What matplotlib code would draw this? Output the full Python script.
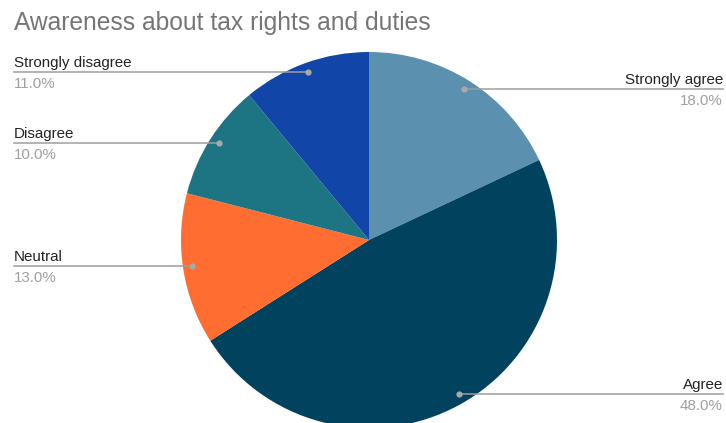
import matplotlib.pyplot as plt
import numpy as np

plt.rcParams['font.family'] = ['Liberation Sans', 'DejaVu Sans']

labels = ["Strongly agree", "Agree", "Neutral", "Disagree", "Strongly disagree"]
values = [18.0, 48.0, 13.0, 10.0, 11.0]
colors = ["#5b91ae", "#01435f", "#ff6d31", "#1d7584", "#1245a8"]
# which side each label sits on, and the height of its leader line (pixels from bottom)
sides = ["right", "right", "left", "left", "left"]
line_y = [334, 29, 157, 280, 351]

W, H = 726, 423
fig = plt.figure(figsize=(W / 100, H / 100), dpi=100)
ax = fig.add_axes([0, 0, 1, 1])

cx, cy, R = 369, 183, 188
wedges, _ = ax.pie(values, colors=colors, startangle=90, counterclock=False,
                   center=(cx, cy), radius=R, wedgeprops=dict(linewidth=0))

ax.set_xlim(0, W)
ax.set_ylim(0, H)
ax.set_aspect('equal')
ax.axis('off')

total = sum(values)
r_dot = 0.95 * R
for lab, val, side, ly in zip(labels, values, sides, line_y):
    dy = ly - cy
    dx = np.sqrt(max(r_dot ** 2 - dy ** 2, 0))
    if side == "right":
        x0 = cx + dx
        ax.plot([x0, 723], [ly, ly], color="#9e9e9e", lw=1.1, zorder=3)
        tx, ha = 723, "right"
    else:
        x0 = cx - dx
        ax.plot([14, x0], [ly, ly], color="#9e9e9e", lw=1.1, zorder=3)
        tx, ha = 14, "left"
    ax.plot(x0, ly, "o", color="#a8a8a8", ms=4.5, mew=0, zorder=4)
    ax.text(tx, ly + 5, lab, ha=ha, va="baseline", fontsize=10.9, color="#222222")
    ax.text(tx, ly - 5, f"{val / total * 100:.1f}%", ha=ha, va="top",
            fontsize=10.9, color="#a0a0a0")

ax.text(14, 393, "Awareness about tax rights and duties", ha="left", va="baseline",
        fontsize=17.7, color="#757575")

fig.savefig("out.png", dpi=100)
